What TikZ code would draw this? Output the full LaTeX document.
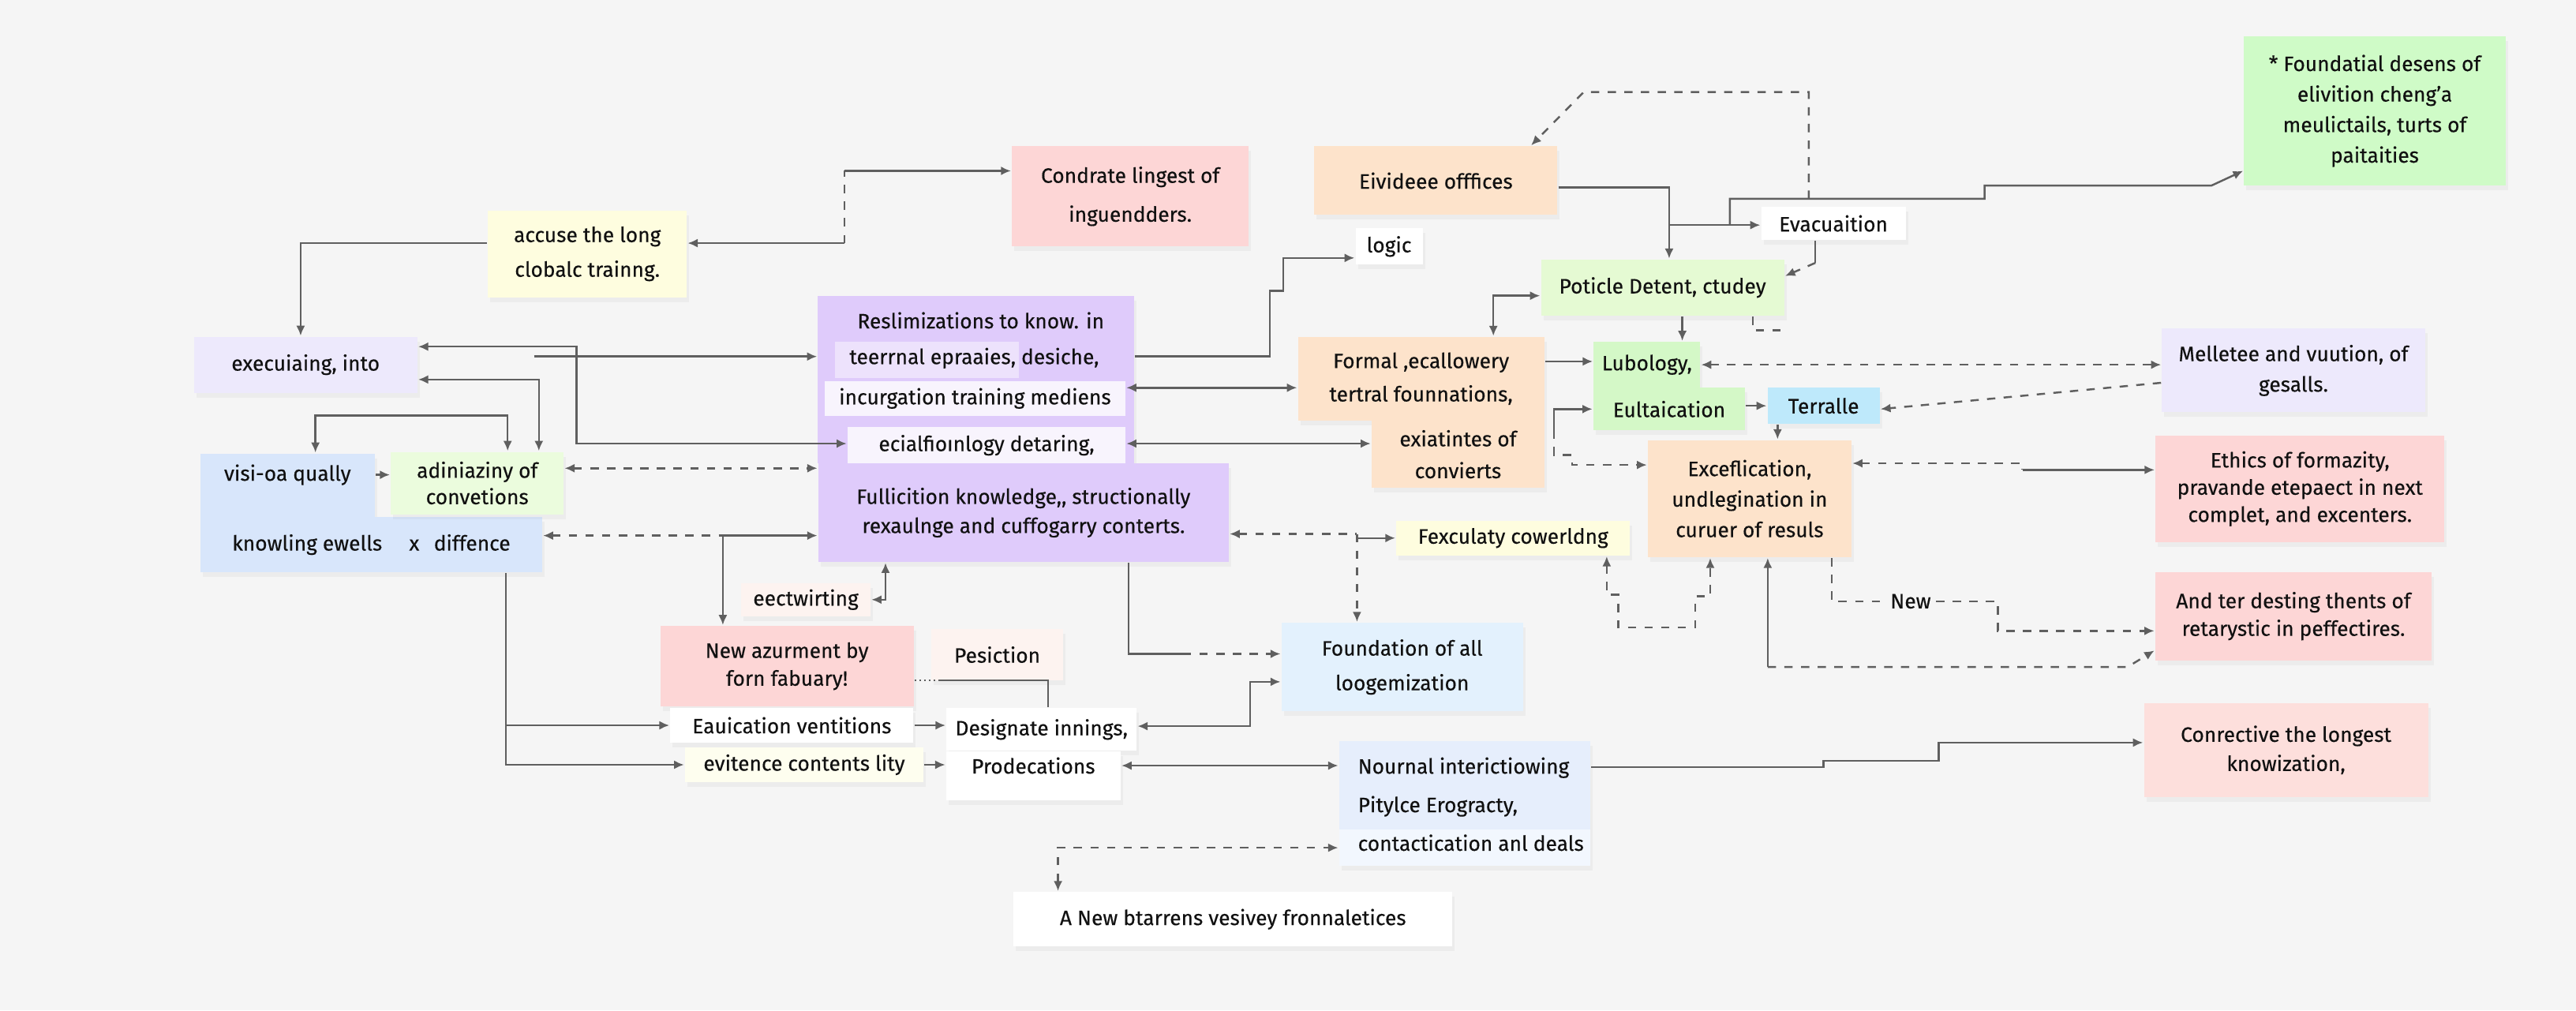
\documentclass[tikz,border=0pt]{standalone}
\usepackage{fontspec}
\setmainfont{Fira Sans}[FakeBold=0.35]
\usepackage{xcolor}
\usepackage{tikz}
\usetikzlibrary{arrows.meta}
\usetikzlibrary{shadows}

\definecolor{bgc}{HTML}{F5F5F5}
\definecolor{linec}{HTML}{5F5F5F}
\definecolor{txtc}{HTML}{111111}
\definecolor{cYel}{HTML}{FEFDDF}
\definecolor{cYelL}{HTML}{FEFEEF}
\definecolor{cPink}{HTML}{FDD6D6}
\definecolor{cPinkL}{HTML}{FDDFDC}
\definecolor{cRose}{HTML}{FDF3F0}
\definecolor{cPeach}{HTML}{FDE3CB}
\definecolor{cGreen}{HTML}{CFFBC7}
\definecolor{cGreenL}{HTML}{EBFCDD}
\definecolor{cPoti}{HTML}{E5FAD3}
\definecolor{cLubo}{HTML}{D4F8C7}
\definecolor{cLav}{HTML}{EDE9FC}
\definecolor{cPurp}{HTML}{DFCBFB}
\definecolor{cPurpL}{HTML}{EDE2FC}
\definecolor{cPurpW}{HTML}{F8F4FD}
\definecolor{cBlue}{HTML}{D8E6FB}
\definecolor{cTerr}{HTML}{BEE9FB}
\definecolor{cFoundB}{HTML}{E3F1FD}
\definecolor{cNour}{HTML}{E6EEFC}
\definecolor{cNourL}{HTML}{F2F7FE}

\begin{document}
\begin{tikzpicture}[x=0.020816cm,y=-0.020816cm,>={Latex[length=3.6pt,width=3.2pt]},line width=0.7pt]
      \tikzstyle{row}=[inner sep=0pt,align=center,text=txtc,font=\fontsize{7.5}{11}\selectfont]
      \tikzstyle{box}=[row,drop shadow={shadow xshift=0.3mm,shadow yshift=-0.6mm,opacity=0.07}]
      \tikzstyle{txt}=[inner sep=0pt,align=center,text=txtc,font=\fontsize{7.5}{11}\selectfont]

      \fill[bgc] (0,0) rectangle (1568,615);

      % left column
      \node[box,fill=cYel,minimum width=2.52cm,minimum height=1.10cm,font=\fontsize{7.5}{12.5}\selectfont] (acc) at (357.5,154.5) {accuse the long\\clobalc trainng.};
      \node[box,fill=cPink,minimum width=3.00cm,minimum height=1.27cm,font=\fontsize{7.5}{14}\selectfont] (cond) at (688,119.5) {Condrate lingest of\\inguendders.};
      \node[box,fill=cLav,minimum width=2.83cm,minimum height=0.71cm] (exec) at (186,222) {execuiaing, into};
      \node[box,fill=cBlue,minimum width=2.21cm,minimum height=0.81cm] (visi) at (175,295.5) {};
      \node[txt] (visiT) at (175,289) {visi-oa qually};
      \node[box,fill=cBlue,minimum width=4.33cm,minimum height=0.70cm] (knowl) at (226,331.5) {knowling ewells\hspace{1.3em}x\hspace{0.7em}diffence};
      \node[box,fill=cGreenL,minimum width=2.19cm,minimum height=0.79cm,font=\fontsize{7.5}{9.5}\selectfont] (adin) at (290.5,294) {adiniaziny of\\convetions};

      % purple block
      \node[box,fill=cPurp,minimum width=4.00cm,minimum height=2.12cm] (resl) at (594,231) {};
      \node[txt] (reslT) at (597,195) {Reslimizations to know. in};
      \node[row,fill=cPurpL,minimum width=2.33cm,minimum height=0.46cm] (teerB) at (564,219) {};
      \node[txt] (teer) at (593,218) {teerrnal epraaies, desiche,};
      \node[row,fill=cPurpW,minimum width=3.81cm,minimum height=0.44cm] (incu) at (593.5,242.5) {incurgation training mediens};
      \node[row,fill=cPurpW,minimum width=3.52cm,minimum height=0.46cm] (ecia) at (600.5,271) {ecialfioınlogy detaring,};
      \node[box,fill=cPurp,minimum width=5.20cm,minimum height=1.25cm,font=\fontsize{7.5}{10.5}\selectfont] (full) at (623,312) {Fullicition knowledge,{}, structionally\\rexaulnge and cuffogarry conterts.};

      % lower middle
      \node[box,fill=cRose,minimum width=1.64cm,minimum height=0.42cm] (eect) at (490.5,365) {eectwirting};
      \node[box,fill=cPink,minimum width=3.21cm,minimum height=1.02cm,font=\fontsize{7.5}{10}\selectfont] (newaz) at (479,405.5) {New azurment by\\forn fabuary!};
      \node[box,fill=cRose,minimum width=1.67cm,minimum height=0.65cm] (pesi) at (607,398.5) {Pesiction};
      \node[box,fill=white,minimum width=3.08cm,minimum height=0.44cm] (eaui) at (482,441.5) {Eauication ventitions};
      \node[box,fill=cYelL,minimum width=3.02cm,minimum height=0.44cm] (evit) at (489.5,465.5) {evitence contents lity};
      \node[box,fill=white,minimum width=2.41cm,minimum height=0.54cm] (desi) at (634,444) {Designate innings,};
      \node[box,fill=white,minimum width=2.21cm,minimum height=0.62cm] (prod) at (629,472) {};
      \node[txt] (prodT) at (629,466) {Prodecations};
      \node[box,fill=cFoundB,minimum width=3.06cm,minimum height=1.12cm,font=\fontsize{7.5}{12.5}\selectfont] (fall) at (853.5,406) {Foundation of all\\loogemization};
      \node[box,fill=cNour,minimum width=3.18cm,minimum height=1.58cm] (nour) at (891.5,489) {};
      \node[row,fill=cNourL,minimum width=3.18cm,minimum height=0.46cm] (nourB) at (891.5,516) {};
      \node[txt,anchor=west,align=left,font=\fontsize{7.5}{13.9}\selectfont] (nourT) at (826,489.5) {Nournal interictiowing\\Pitylce Erogracty,\\contactication anl deals};
      \node[box,fill=white,minimum width=5.56cm,minimum height=0.69cm] (anew) at (750.5,559.5) {A New btarrens vesivey fronnaletices};
      \node[box,fill=cYel,minimum width=2.96cm,minimum height=0.44cm] (fexc) at (921,327.5) {Fexculaty cowerldng};

      % upper right
      \node[box,fill=cPeach,minimum width=3.08cm,minimum height=0.87cm] (eivi) at (874,110) {Eivideee offfices};
      \node[box,fill=white,minimum width=1.83cm,minimum height=0.42cm] (evac) at (1116,136) {Evacuaition};
      \node[box,fill=cGreen,minimum width=3.31cm,minimum height=1.89cm] (found) at (1445.5,67.5) {* Foundatial desens of\\elivition cheng’a\\meulictails, turts of\\paitaities};
      \node[box,fill=white,minimum width=0.85cm,minimum height=0.46cm] (logic) at (845.5,150) {logic};
      \node[box,fill=cPoti,minimum width=3.08cm,minimum height=0.71cm] (poti) at (1012,175) {Poticle Detent, ctudey};
      \node[box,fill=cPeach,minimum width=3.12cm,minimum height=1.06cm,font=\fontsize{7.5}{12}\selectfont] (form) at (865,230.5) {Formal ,ecallowery\\tertral founnations,};
      \node[box,fill=cPeach,minimum width=2.19cm,minimum height=0.85cm,font=\fontsize{7.5}{11.5}\selectfont] (exia) at (887.5,276.5) {exiatintes of\\convierts};
      \node[box,fill=cLubo,minimum width=1.35cm,minimum height=0.58cm] (lubo) at (1002.5,222) {Lubology,};
      \node[box,fill=cLubo,minimum width=1.92cm,minimum height=0.54cm] (eult) at (1016,249) {Eultaication};
      \node[box,fill=cTerr,minimum width=1.42cm,minimum height=0.46cm] (terr) at (1110,247) {Terralle};
      \node[box,fill=cPeach,minimum width=2.58cm,minimum height=1.48cm] (exce) at (1065,303.5) {Exceflication,\\undlegination in\\curuer of resuls};
      \node[box,fill=cLav,minimum width=3.33cm,minimum height=1.06cm] (mell) at (1396,225.5) {Melletee and vuution, of\\gesalls.};
      \node[box,fill=cPink,minimum width=3.66cm,minimum height=1.35cm,font=\fontsize{7.5}{9.8}\selectfont] (ethi) at (1400,297.5) {Ethics of formazity,\\pravande etepaect in next\\complet, and excenters.};
      \node[box,fill=cPink,minimum width=3.50cm,minimum height=1.12cm,font=\fontsize{7.5}{10}\selectfont] (ander) at (1396,375) {And ter desting thents of\\retarystic in peffectires.};
      \node[box,fill=cPinkL,minimum width=3.60cm,minimum height=1.19cm,font=\fontsize{7.5}{10.5}\selectfont] (conr) at (1391.5,456.5) {Conrective the longest\\knowization,};
      \node[txt,fill=bgc,inner sep=1.5pt] (newl) at (1163,366) {New};

      \begin{scope}[color=linec]
      % left side
      \draw[->] (acc.west |- 0,148) -| (exec.north -| 183,0);
      \draw[<-] (acc.east |- 0,148) -- (514,148);
      \draw[dashed] (514,148) -- (514,104);
      \draw[->] (514,104) -- (cond.west |- 0,104);
      \draw[<->] (exec.east |- 0,211) -- (351,211) -- (351,270) -- (ecia.west |- 0,270);
      \draw[->] (325,217) -- (resl.west |- 0,217);
      \draw[<->] (exec.east |- 0,231) -| (adin.north -| 328,0);
      \draw[<->] (visi.north -| 192,0) |- (309,253) -- (adin.north -| 309,0);
      \draw[->] (visi.east |- 0,289) -- (adin.west |- 0,289);
      \draw[<->,dashed] (adin.east |- 0,285) -- (full.west |- 0,285);
      \draw[<-,dashed] (knowl.east |- 0,326) -- (440,326);
      \draw[->] (440,326) -- (full.west |- 0,326);
      \draw[->] (440,326) -- (newaz.north -| 440,0);
      \draw[->] (knowl.south -| 308,0) |- (eaui.west);
      \draw[->] (knowl.south -| 308,0) |- (evit.west);

      % lower middle
      \draw[<->] (full.south -| 539,0) |- (eect.east);
      \draw (full.south -| 687,0) |- (720,398);
      \draw[->,dashed] (720,398) -- (fall.west |- 0,398);
      \draw[densely dotted] (newaz.east |- 0,414) -- (572,414);
      \draw (572,414) -| (desi.north -| 638,0);
      \draw[->] (eaui.east) -- (desi.west |- eaui.east);
      \draw[->] (evit.east) -- (prod.west |- evit.east);
      \draw[<->] (desi.east |- 0,442) -- (761,442) -- (761,415) -- (fall.west |- 0,415);
      \draw[<->] (prod.east |- 0,466) -- (nour.west |- 0,466);
      \draw[<->,dashed] (anew.north -| 644,0) |- (nourB.west);
      \draw[->] (nour.east |- 0,467) -- (1110,467) -- (1110,463) -- (1180,463) -- (1180,452) -- (conr.west |- 0,452);

      % middle
      \draw[->] (resl.east |- 0,217) -- (773,217) -- (773,177) -- (781,177) -- (781,157) -- (logic.west |- 0,157);
      \draw[<->] (incu.east |- 0,236) -- (form.west |- 0,236);
      \draw[<->] (ecia.east |- 0,270) -- (exia.west |- 0,270);
      \draw[<-,dashed] (full.east |- 0,325) -- (826,325);
      \draw[->] (826,325) |- (fexc.west);
      \draw[->,dashed] (826,325) -- (fall.north -| 826,0);

      % right side
      \draw[->] (eivi.east |- 0,114) -| (poti.north -| 1016,0);
      \draw[->] (1016,137) -- (evac.west |- 0,137);
      \draw[->] (1053,137) |- (1208,121) |- (1346,113) -- (found.west |- 0,104);
      \draw[->,dashed] (1101,121) -- (1101,56) -- (964,56) -- (eivi.north -| 932,0);
      \draw (evac.south -| 1105,0) -- (1105,160);
      \draw[->,dashed] (1105,160) -- (poti.east |- 0,168);
      \draw[<->] (form.north -| 909,0) |- (poti.west |- 0,180);
      \draw[->] (poti.south -| 1024,0) -- (lubo.north -| 1024,0);
      \draw[dashed] (poti.south -| 1067,0) |- (1086,201);
      \draw[->] (form.east |- 0,220) -- (lubo.west |- 0,220);
      \draw[->] (946,262) |- (eult.west |- 0,249);
      \draw[->,dashed] (946,262) |- (957,277) |- (exce.west |- 0,283);
      \draw[->] (eult.east |- 0,247) -- (terr.west);
      \draw[->] (terr.south -| 1082,0) -- (exce.north -| 1082,0);
      \draw[<->,dashed] (lubo.east |- 0,222) -- (mell.west |- 0,222);
      \draw[->,dashed] (mell.west |- 0,233) -- (terr.east |- 0,249);
      \draw[<-,dashed] (exce.east |- 0,282) -- (1231,282) -- (1231,286);
      \draw[->] (1231,286) -- (ethi.west |- 0,286);
      \draw[<->,dashed] (fexc.south -| 978,0) -- (978,362) -- (985,362) -- (985,382) -- (1032,382) -- (1032,363) -- (1041,363) -- (exce.south -| 1041,0);
      \draw[<-] (exce.south -| 1076,0) -- (1076,406);
      \draw[->,dashed] (1076,406) -- (1295,406) -- (ander.west |- 0,396);
      \draw[dashed] (exce.south -| 1115,0) |- (newl.west);
      \draw[->,dashed] (newl.east) -| (1216,384) -- (ander.west |- 0,384);
      \end{scope}
    \end{tikzpicture}
\end{document}
